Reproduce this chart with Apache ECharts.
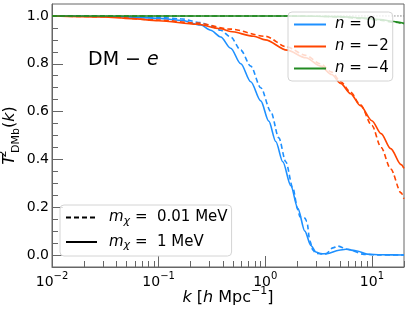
<!DOCTYPE html>
<html><head><meta charset="utf-8">
<script src="https://cdn.jsdelivr.net/npm/echarts@6/dist/echarts.min.js"></script>
<style>html,body{margin:0;padding:0;background:#fff}#c{width:407px;height:311px}</style>
</head><body><div id="c"></div>
<script>
// ---- data (k in h/Mpc, T^2_DMb) ----
const kBlueSolid = [0.01, 0.02, 0.05, 0.1, 0.16, 0.248, 0.308, 0.382, 0.474, 0.589, 0.731, 0.907, 1.079, 1.255, 1.46, 1.737, 2.021, 2.35, 2.677, 2.983, 3.324, 3.784, 4.907, 5.709, 7.244, 8.994, 12.18, 20];
const tBlueSolid = [1.0, 0.999, 0.996, 0.99, 0.982, 0.962, 0.94, 0.912, 0.865, 0.80, 0.725, 0.645, 0.56, 0.475, 0.39, 0.29, 0.195, 0.10, 0.04, 0.013, 0.005, 0.006, 0.02, 0.024, 0.017, 0.004, 0.001, 0.0];
const kBlueDash = [0.01, 0.03, 0.1, 0.161, 0.248, 0.308, 0.382, 0.474, 0.589, 0.731, 0.907, 1.127, 1.34, 1.559, 1.814, 2.021, 2.11, 2.35, 2.455, 2.619, 2.795, 2.983, 3.703, 4.309, 4.77, 5.93, 8.43, 12, 20];
const tBlueDash = [1.0, 0.999, 0.994, 0.988, 0.972, 0.958, 0.94, 0.912, 0.857, 0.79, 0.70, 0.60, 0.49, 0.39, 0.28, 0.19, 0.16, 0.155, 0.14, 0.06, 0.02, 0.007, 0.005, 0.03, 0.0375, 0.024, 0.003, 0.0, 0.0];
const kOrangeSolid = [0.01, 0.03, 0.055, 0.1, 0.23, 0.38, 0.47, 0.78, 1.0, 1.6, 2.4, 3.3, 4.2, 5.1, 6.3, 7.8, 10, 12.2, 15, 18.8, 20];
const tOrangeSolid = [1.0, 0.996, 0.989, 0.98, 0.965, 0.947, 0.935, 0.915, 0.90, 0.857, 0.825, 0.79, 0.755, 0.718, 0.675, 0.625, 0.562, 0.508, 0.445, 0.378, 0.362];
const kOrangeDash = [0.01, 0.03, 0.1, 0.23, 0.47, 1.0, 1.6, 2.4, 3.3, 4.2, 5.1, 6.3, 7.8, 10, 12.2, 15, 18.8, 20];
const tOrangeDash = [1.0, 0.997, 0.983, 0.97, 0.945, 0.915, 0.87, 0.835, 0.80, 0.765, 0.725, 0.682, 0.628, 0.542, 0.45, 0.36, 0.26, 0.235];
const kGreenSolid = [0.01, 1, 3, 5, 8, 12, 16, 20];
const tGreenSolid = [1.0, 1.0, 0.999, 0.997, 0.992, 0.985, 0.977, 0.969];
const kGreenDash = [0.01, 1, 3, 5, 8, 12, 16, 20];
const tGreenDash = [1.0, 1.0, 0.999, 0.996, 0.99, 0.982, 0.974, 0.966];
const kRef = [0.01, 20];
const tRef = [1.0, 1.0];

const seriesNames = ['n = 0', 'n = −2', 'n = −4'];
const massNames = ['mχ =  0.01 MeV', 'mχ =  1 MeV'];
const yTickLabels = [0, 0.2, 0.4, 0.6, 0.8, 1.0];
const yMinorTicks = [0.05, 0.1, 0.15, 0.25, 0.3, 0.35, 0.45, 0.5, 0.55, 0.65, 0.7, 0.75, 0.85, 0.9, 0.95];
const X_MIN = 0.01, X_MAX = 20;
const xDecades = [-2, -1, 0, 1];
const xMinorTicks = [];
xDecades.forEach(d => { for (let m = 2; m <= 9; m++) { const v = m * Math.pow(10, d); if (v <= X_MAX) xMinorTicks.push(v); } });

const BLUE = '#1E90FF', ORANGE = '#FF4500', GREEN = '#228B22', AX = '#666';
const FONT = 'DejaVu Sans';
const DASH = [5, 3];

function mk(name, ks, ts, color, dashed, z) {
  return {
    type: 'line', name, xAxisIndex: 0, yAxisIndex: 0,
    data: ks.map((k, i) => [k, ts[i]]),
    symbol: 'none', showSymbol: false, smooth: 0.3, smoothMonotone: 'x',
    lineStyle: { color, width: 1.6, type: dashed ? DASH : 'solid' },
    itemStyle: { color }, z, silent: true, animation: false
  };
}

const series = [
  mk('ref', kRef, tRef, '#888', false, 1),
  mk(seriesNames[0], kBlueSolid, tBlueSolid, BLUE, false, 2),
  mk('n0d', kBlueDash, tBlueDash, BLUE, true, 2),
  mk(seriesNames[1], kOrangeSolid, tOrangeSolid, ORANGE, false, 2),
  mk('n2d', kOrangeDash, tOrangeDash, ORANGE, true, 2),
  mk(seriesNames[2], kGreenSolid, tGreenSolid, GREEN, false, 2),
  mk('n4d', kGreenDash, tGreenDash, GREEN, true, 2),
  mk(massNames[0], [], [], '#000', true, 2),
  mk(massNames[1], [], [], '#000', false, 2)
];
series[0].lineStyle.type = [1.5, 1.5];
series[0].lineStyle.width = 1;

const chart = echarts.init(document.getElementById('c'), null, { renderer: 'canvas' });
chart.setOption({
  animation: false,
  textStyle: { fontFamily: FONT },
  grid: { left: 52, right: 3, top: 4, bottom: 44, show: true, borderColor: AX, borderWidth: 1,
          backgroundColor: 'transparent', containLabel: false, outerBoundsMode: 'none' },
  xAxis: [{
    type: 'log', logBase: 10, min: X_MIN, max: X_MAX, position: 'bottom',
    axisLine: { show: true, onZero: false, lineStyle: { color: AX, width: 1 } },
    axisTick: { show: true, inside: true, length: 11, lineStyle: { color: AX, width: 1 } },
    splitLine: { show: false },
    axisLabel: {
      margin: 4, color: '#000', fontFamily: FONT, showMaxLabel: false,
      formatter: v => {
        const e = Math.round(Math.log10(v));
        if (Math.abs(Math.log10(v) - e) > 1e-6) return '';
        return '{b|10}{s|' + String(e).replace('-', '−') + '}';
      },
      rich: {
        b: { fontSize: 14, fontFamily: FONT, color: '#000', verticalAlign: 'bottom', lineHeight: 18 },
        s: { fontSize: 10, fontFamily: FONT, color: '#000', verticalAlign: 'top', lineHeight: 12 }
      }
    },
    name: '{i|k}{r| [}{i|h}{r| Mpc}{s|−1}{r|]}',
    nameLocation: 'middle', nameGap: 19, nameMoveOverlap: false,
    nameTextStyle: {
      rich: {
        i: { fontSize: 16, fontStyle: 'italic', fontFamily: FONT, color: '#000', verticalAlign: 'bottom', lineHeight: 20 },
        r: { fontSize: 16, fontFamily: FONT, color: '#000', verticalAlign: 'bottom', lineHeight: 20 },
        s: { fontSize: 11, fontFamily: FONT, color: '#000', verticalAlign: 'top', lineHeight: 12 }
      }
    }
  }, {
    // minor ticks: value axis in log10(k) space spanning the same extent
    type: 'value', min: Math.log10(X_MIN), max: Math.log10(X_MAX), position: 'bottom',
    axisLine: { show: false, onZero: false }, axisLabel: { show: false }, splitLine: { show: false },
    axisTick: { show: true, inside: true, length: 6, customValues: xMinorTicks.map(v => Math.log10(v)), lineStyle: { color: AX, width: 1 } }
  }],
  yAxis: [{
    type: 'value', min: -0.05, max: 1.05, position: 'left',
    axisLine: { show: true, onZero: false, lineStyle: { color: AX, width: 1 } },
    axisTick: { show: true, inside: true, length: 11, customValues: yTickLabels, lineStyle: { color: AX, width: 1 } },
    splitLine: { show: false },
    axisLabel: { customValues: yTickLabels, margin: 3, fontSize: 14, color: '#000', fontFamily: FONT, formatter: v => v.toFixed(1) },
    name: '{i|T}{sup|2}{sub|DMb}{r|(}{i|k}{r|)}',
    nameLocation: 'middle', nameGap: 30, nameRotate: 90, nameMoveOverlap: false,
    nameTextStyle: {
      rich: {
        i: { fontSize: 16, fontStyle: 'italic', fontFamily: FONT, color: '#000', verticalAlign: 'middle', lineHeight: 24 },
        r: { fontSize: 16, fontFamily: FONT, color: '#000', verticalAlign: 'middle', lineHeight: 24 },
        sup: { fontSize: 11, fontFamily: FONT, color: '#000', verticalAlign: 'top', lineHeight: 12, width: 2 },
        sub: { fontSize: 11, fontFamily: FONT, color: '#000', verticalAlign: 'bottom', lineHeight: 12 }
      }
    }
  }, {
    type: 'value', min: -0.05, max: 1.05, position: 'left',
    axisLine: { show: false, onZero: false }, axisLabel: { show: false }, splitLine: { show: false },
    axisTick: { show: true, inside: true, length: 6, customValues: yMinorTicks, lineStyle: { color: AX, width: 1 } }
  }],
  legend: [{
    data: seriesNames, orient: 'vertical', left: 288, top: 12,
    padding: [5, 4, 5, 5], itemGap: 7, itemWidth: 32, itemHeight: 16,
    backgroundColor: 'rgba(255,255,255,0.8)', borderColor: '#d4d4d4', borderWidth: 1, borderRadius: 4,
    selectedMode: false,
    itemStyle: { opacity: 0 },
    formatter: name => '{i|n}{r|' + name.slice(1) + '}',
    textStyle: {
      padding: [0, 0, 0, 4],
      rich: {
        i: { fontSize: 15, fontStyle: 'italic', fontFamily: FONT, color: '#000' },
        r: { fontSize: 15, fontFamily: FONT, color: '#000' }
      }
    }
  }, {
    data: massNames, orient: 'vertical', left: 60, top: 205,
    padding: [5, 4, 5, 5], itemGap: 8, itemWidth: 31, itemHeight: 16,
    backgroundColor: 'rgba(255,255,255,0.8)', borderColor: '#d4d4d4', borderWidth: 1, borderRadius: 4,
    selectedMode: false,
    itemStyle: { opacity: 0 },
    formatter: name => '{i|m}{s|χ}{r|' + name.slice(2) + '}',
    textStyle: {
      padding: [0, 0, 0, 7],
      rich: {
        i: { fontSize: 15, fontStyle: 'italic', fontFamily: FONT, color: '#000', verticalAlign: 'middle', lineHeight: 18 },
        s: { fontSize: 11, fontStyle: 'italic', fontFamily: FONT, color: '#000', verticalAlign: 'bottom', lineHeight: 14 },
        r: { fontSize: 15, fontFamily: FONT, color: '#000', verticalAlign: 'middle', lineHeight: 18 }
      }
    }
  }],
  graphic: [{
    type: 'text', left: 88, top: 51, z: 10,
    style: {
      text: '{r|DM − }{i|e}',
      rich: {
        r: { fontSize: 19, fontFamily: FONT, fill: '#000' },
        i: { fontSize: 19, fontStyle: 'italic', fontFamily: FONT, fill: '#000' }
      }
    }
  }],
  series
});
</script></body></html>
